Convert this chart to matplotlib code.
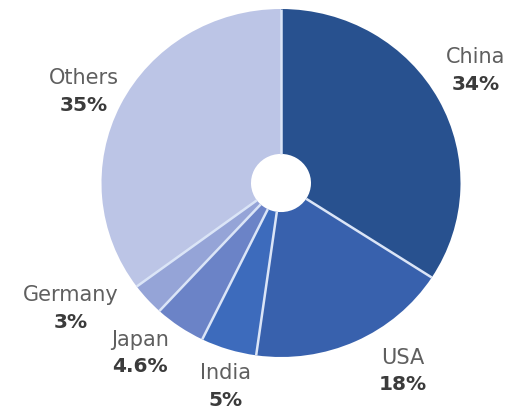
import matplotlib
matplotlib.use("Agg")
import matplotlib.pyplot as plt
import numpy as np

# shares as printed on the chart, clockwise from 12 o'clock
countries = ["China", "USA", "India", "Japan", "Germany", "Others"]
shares = [34, 18, 5, 4.6, 3, 35]
share_labels = ["34%", "18%", "5%", "4.6%", "3%", "35%"]
colors = ["#28518f", "#3861ad", "#3d6bbc", "#6b83c7", "#95a4d7", "#bcc5e6"]

# label anchor points in pixels (x, y of the country name)
label_px = [(476, 57), (403, 358), (225, 373), (140, 340), (71, 295), (84, 78)]

W, H = 514, 408
CX, CY = 281, 183      # pie centre in pixels
RX, RY = 179.5, 174    # pie radii in pixels (slightly squashed)
HOLE = 30
r_in = 1 - (1 - HOLE / RX)


def to_data(px, py):
    return (px - CX) / RX, (CY - py) / RY


fig = plt.figure(figsize=(W / 100, H / 100), dpi=100)
ax = fig.add_axes([0, 0, 1, 1])

ax.pie(shares, colors=colors, startangle=90, counterclock=False,
       radius=1, frame=True,
       wedgeprops=dict(width=1 - HOLE / RX, linewidth=0))

# light separators between the wedges only (no outer outline)
cum = np.cumsum([0] + shares) / sum(shares)
for f in cum[:-1]:
    a = np.deg2rad(90 - 360 * f)
    ax.plot([r_in * np.cos(a), np.cos(a)], [r_in * np.sin(a), np.sin(a)],
            color="#dbe5f7", lw=1.8, solid_capstyle="butt")

ax.set_aspect("auto")
ax.set_xlim(-CX / RX, (W - CX) / RX)
ax.set_ylim(-(H - CY) / RY, CY / RY)
ax.axis("off")

for name, pct, (px, py) in zip(countries, share_labels, label_px):
    x, y = to_data(px, py)
    ax.text(x, y, name, ha="center", va="center", fontsize=15,
            color="#5f5f5f", family="DejaVu Sans")
    x2, y2 = to_data(px, py + 27)
    ax.text(x2, y2, pct, ha="center", va="center", fontsize=14.5,
            fontweight="bold", color="#3b3b3b", family="DejaVu Sans")

fig.savefig("out.png", dpi=100)
